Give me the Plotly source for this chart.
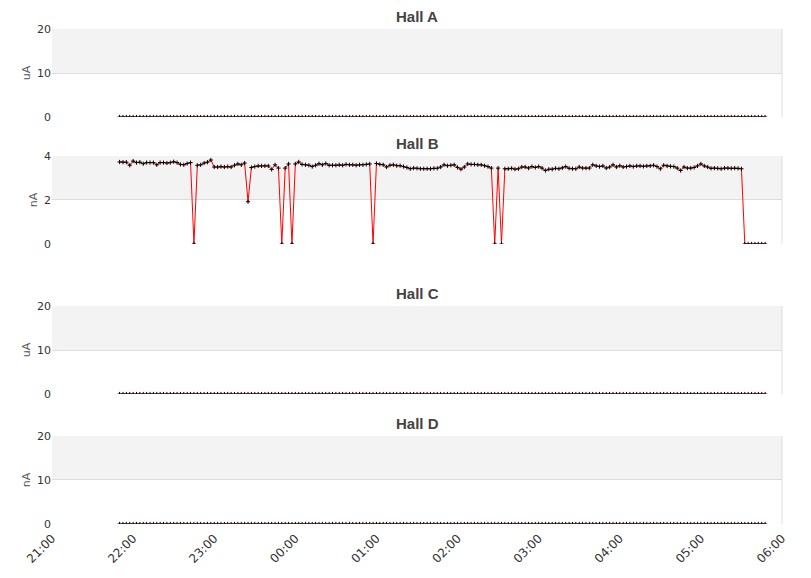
import pandas as pd
import plotly.graph_objects as go
from plotly.subplots import make_subplots

# beam current per hall, sampled every 2.5 minutes
halls = ["Hall A", "Hall B", "Hall C", "Hall D"]
units = ["uA", "nA", "uA", "nA"]
y_tops = [20, 4, 20, 20]
y_ticks = [[0, 10, 20], [0, 2, 4], [0, 10, 20], [0, 10, 20]]

times = pd.date_range("2024-03-01 21:50", periods=192, freq="150s")

hall_b = [
    3.73, 3.72, 3.72, 3.58, 3.77, 3.70, 3.72, 3.65, 3.70, 3.70, 3.70, 3.60,
    3.70, 3.70, 3.68, 3.70, 3.74, 3.70, 3.62, 3.60, 3.66, 3.70, 0.00, 3.58,
    3.60, 3.68, 3.72, 3.82, 3.50, 3.50, 3.52, 3.50, 3.52, 3.50, 3.58, 3.64,
    3.60, 3.68, 1.92, 3.48, 3.52, 3.55, 3.55, 3.55, 3.55, 3.39, 3.60, 3.45,
    0.00, 3.45, 3.64, 0.00, 3.64, 3.73, 3.62, 3.60, 3.58, 3.52, 3.58, 3.65,
    3.60, 3.66, 3.58, 3.58, 3.58, 3.60, 3.58, 3.62, 3.60, 3.60, 3.58, 3.60,
    3.60, 3.62, 3.64, 0.00, 3.66, 3.62, 3.60, 3.50, 3.58, 3.60, 3.56, 3.56,
    3.52, 3.48, 3.42, 3.45, 3.44, 3.42, 3.42, 3.42, 3.42, 3.44, 3.44, 3.50,
    3.60, 3.56, 3.58, 3.60, 3.48, 3.40, 3.50, 3.64, 3.62, 3.62, 3.60, 3.60,
    3.56, 3.52, 3.45, 0.00, 3.45, 0.00, 3.42, 3.42, 3.44, 3.40, 3.42, 3.50,
    3.50, 3.45, 3.52, 3.48, 3.52, 3.45, 3.34, 3.40, 3.40, 3.44, 3.42, 3.46,
    3.52, 3.44, 3.42, 3.42, 3.50, 3.45, 3.45, 3.45, 3.60, 3.55, 3.52, 3.55,
    3.45, 3.50, 3.60, 3.50, 3.56, 3.50, 3.52, 3.55, 3.52, 3.55, 3.55, 3.53,
    3.55, 3.55, 3.58, 3.52, 3.42, 3.58, 3.55, 3.53, 3.52, 3.45, 3.34, 3.50,
    3.45, 3.45, 3.48, 3.55, 3.64, 3.55, 3.50, 3.44, 3.45, 3.44, 3.42, 3.45,
    3.45, 3.44, 3.45, 3.44, 3.42, 0.00, 0.00, 0.00, 0.00, 0.00, 0.00, 0.00,
]
# halls A, C and D read zero all night
hall_a = [0.0] * len(times)
hall_c = [0.0] * len(times)
hall_d = [0.0] * len(times)
series = [hall_a, hall_b, hall_c, hall_d]

domains = [[0.8222, 1.0], [0.5657, 0.7434], [0.2626, 0.4404], [0.0, 0.1778]]

fig = make_subplots(rows=4, cols=1, shared_xaxes=True)

for i, vals in enumerate(series):
    fig.add_trace(go.Scatter(
        x=times, y=vals, mode="lines+markers", name=halls[i],
        line=dict(color="#ff0000", width=1),
        marker=dict(symbol="cross-thin", size=3, line=dict(color="black", width=1)),
        showlegend=False,
    ), row=i + 1, col=1)

    yname = "yaxis" if i == 0 else f"yaxis{i + 1}"
    yref = "y" if i == 0 else f"y{i + 1}"
    xref = "x" if i == 0 else f"x{i + 1}"
    fig.update_layout({yname: dict(
        domain=domains[i], range=[0, y_tops[i]], tickvals=y_ticks[i],
        showgrid=True, gridcolor="#dddddd", gridwidth=1, zeroline=False,
        showline=False, ticks="", ticklen=4,
        tickfont=dict(family="DejaVu Sans", size=11, color="#333333"),
        title=dict(text=units[i], standoff=4,
                   font=dict(family="DejaVu Sans", size=11, color="#555555")),
        fixedrange=True,
    )})
    # grey band over the upper half of each panel
    fig.add_shape(type="rect", xref=f"{xref} domain", yref=yref,
                  x0=0, x1=1, y0=y_tops[i] / 2, y1=y_tops[i],
                  fillcolor="#f3f3f3", line_width=0, layer="below")
    fig.add_shape(type="line", xref=f"{xref} domain", yref=f"{yref} domain",
                  x0=1, x1=1, y0=0, y1=1, line=dict(color="#dddddd", width=1))
    fig.add_annotation(text="<b>" + halls[i] + "</b>", xref="paper", yref="paper",
                       x=0.5, y=domains[i][1], yanchor="bottom", yshift=2,
                       showarrow=False,
                       font=dict(family="Liberation Sans", size=15, color="#444444"))

x_range = [pd.Timestamp("2024-03-01 21:00"), pd.Timestamp("2024-03-02 06:00")]
fig.update_xaxes(range=x_range, showgrid=False, zeroline=False, showline=False,
                 dtick=3600000, tickformat="%H:%M", fixedrange=True)
fig.update_xaxes(tickangle=-45, ticks="", ticklabelstandoff=4, row=4, col=1,
                 tickfont=dict(family="DejaVu Sans", size=12, color="#333333"))

fig.update_layout(
    width=811, height=578,
    margin=dict(l=44, r=37, t=21, b=62),
    plot_bgcolor="white", paper_bgcolor="white",
)

fig.write_html("out.html")
